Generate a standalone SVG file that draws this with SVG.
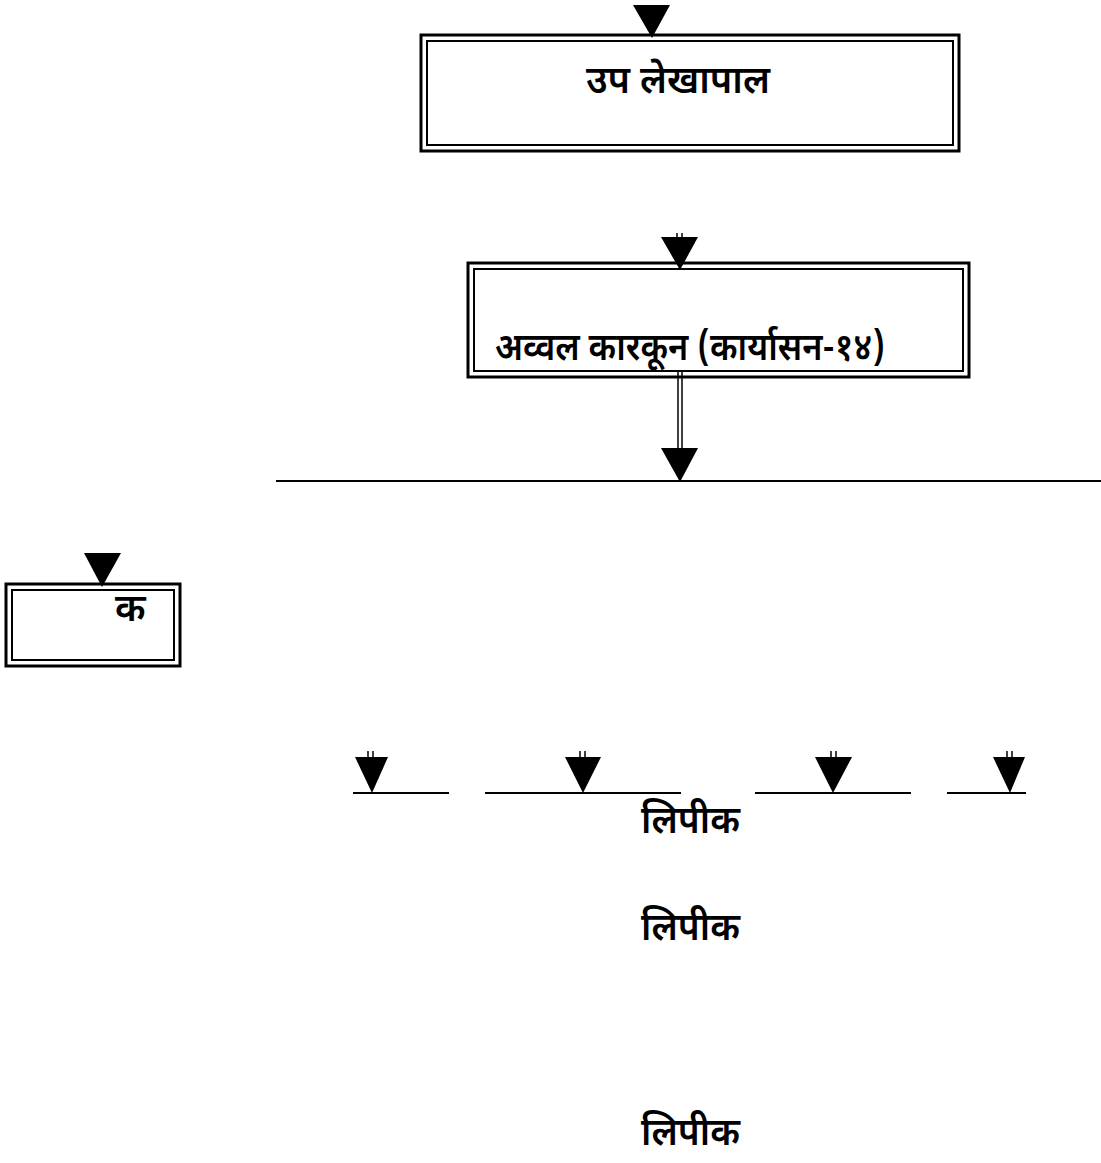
<svg xmlns="http://www.w3.org/2000/svg" width="1101" height="1163" viewBox="0 0 1101 1163">
<style>
.outer{fill:none;stroke:#000;stroke-width:3}
.inner{fill:none;stroke:#000;stroke-width:2}
.t{font-family:"Noto Sans Devanagari","Noto Sans","Lohit Devanagari",sans-serif;font-size:38px;font-weight:600;fill:#000}
.ln{stroke:#000;stroke-width:2;fill:none}
.tk{stroke:#000;stroke-width:1.5}
.ah{fill:#000}
</style>
<rect width="1101" height="1163" fill="#fff"/>
<g id="node-upalekhapal">
<rect class="outer" x="421" y="35" width="538" height="116"/>
<rect class="inner" x="427" y="41" width="526" height="104"/>
<text class="t" x="586" y="93" textLength="184" lengthAdjust="spacingAndGlyphs">उप लेखापाल</text>
</g>
<g id="node-avval">
<rect class="outer" x="468" y="263" width="501" height="114"/>
<rect class="inner" x="474" y="269" width="489" height="102"/>
<text class="t" x="495" y="360" textLength="390" lengthAdjust="spacingAndGlyphs">अव्वल कारकून (कार्यासन-१४)</text>
</g>
<g id="node-k">
<rect class="outer" x="6" y="584" width="174" height="82"/>
<rect class="inner" x="12" y="590" width="162" height="70"/>
<text class="t" x="115" y="621">क</text>
</g>
<g id="node-lipik1"><text class="t" x="641" y="833" textLength="99" lengthAdjust="spacingAndGlyphs">लिपीक</text></g>
<g id="node-lipik2"><text class="t" x="641" y="940" textLength="99" lengthAdjust="spacingAndGlyphs">लिपीक</text></g>
<g id="node-lipik3"><text class="t" x="641" y="1145" textLength="99" lengthAdjust="spacingAndGlyphs">लिपीक</text></g>
<g id="connectors">
<polygon class="ah" points="633,5 670,5 652,38"/>
<line class="tk" x1="677" y1="233" x2="677" y2="238"/>
<line class="tk" x1="682" y1="233" x2="682" y2="238"/>
<polygon class="ah" points="661,237 698,237 680,270"/>
<line x1="678" y1="370" x2="678" y2="450" stroke="#000" stroke-width="1.5"/>
<line x1="682" y1="370" x2="682" y2="450" stroke="#000" stroke-width="1.5"/>
<polygon class="ah" points="661,448 698,448 680,482"/>
<line class="ln" x1="276" y1="481" x2="1101" y2="481"/>
<polygon class="ah" points="84,553 121,553 102,587"/>
<line class="tk" x1="368" y1="751" x2="368" y2="757"/>
<line class="tk" x1="373" y1="751" x2="373" y2="757"/>
<line class="tk" x1="580" y1="751" x2="580" y2="757"/>
<line class="tk" x1="585" y1="751" x2="585" y2="757"/>
<line class="tk" x1="831" y1="751" x2="831" y2="757"/>
<line class="tk" x1="836" y1="751" x2="836" y2="757"/>
<line class="tk" x1="1007" y1="751" x2="1007" y2="757"/>
<line class="tk" x1="1012" y1="751" x2="1012" y2="757"/>
<polygon class="ah" points="355,757 388,757 372,793"/>
<polygon class="ah" points="565,757 601,757 583,793"/>
<polygon class="ah" points="815,757 852,757 833,793"/>
<polygon class="ah" points="993,757 1025,757 1010,793"/>
<line class="ln" x1="353" y1="793" x2="449" y2="793"/>
<line class="ln" x1="485" y1="793" x2="681" y2="793"/>
<line class="ln" x1="755" y1="793" x2="911" y2="793"/>
<line class="ln" x1="947" y1="793" x2="1026" y2="793"/>
</g>
</svg>
